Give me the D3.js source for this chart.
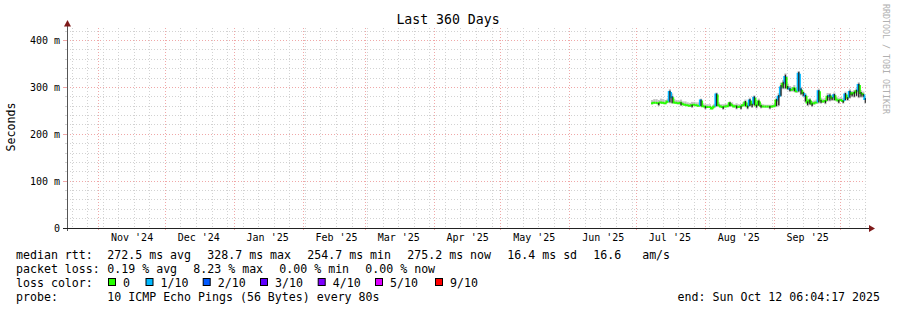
<!DOCTYPE html>
<html>
<head>
<meta charset="utf-8">
<script src="https://cdn.jsdelivr.net/npm/d3@7"></script>
<style>
  body { margin: 0; background: #fff; }
  svg text { font-family: "DejaVu Sans Mono", monospace; fill: #000; }
</style>
</head>
<body>
<svg id="chart" width="897" height="310"></svg>
<script>
// daily samples, first one at Jul 7 2025 noon, values in ms
const firstDay = new Date(2025, 6, 7, 12, 0, 0)
const medianRtt = [
  266,267,267,266,268,267,266,270,290,279,
  268,267,266,267,264,263,262,261,262,263,
  262,261,272,260,259,258,258,255,259,285,
  262,259,258,259,260,266,262,259,260,258,
  259,262,268,260,272,264,278,262,270,261,
  259,259,259,259,259,260,272,280,300,308,
  322,300,297,295,298,292,329,295,288,282,
  268,272,265,266,268,292,272,270,271,280,
  282,278,283,274,272,273,271,285,278,290,
  286,288,292,305,288,285,275]
// light smoke above / below the median (ms)
const smokeUp = [
  7,8,8,7,8,8,7,6,6,8,
  7,6,6,7,6,7,6,6,7,6,
  6,7,4,6,5,6,6,5,6,4,
  6,5,6,6,5,4,6,5,6,6,
  5,6,6,6,6,6,5,6,6,5,
  5,4,4,4,4,5,6,8,10,8,
  8,8,6,6,7,6,6,6,5,5,
  6,5,6,6,6,5,6,6,6,8,
  6,6,6,6,6,6,6,6,6,6,
  6,6,6,6,6,6,5]
const smokeDown = [
  2,2,2,6,2,2,2,3,24,14,
  2,2,2,7,2,2,2,2,6,2,
  2,2,14,2,6,2,2,2,2,27,
  3,2,6,2,2,8,3,2,7,2,
  7,3,10,7,13,8,18,7,10,6,
  2,2,2,6,2,2,14,20,20,12,
  26,6,7,4,8,4,40,12,8,14,
  8,10,7,3,3,26,7,3,7,10,
  12,7,12,4,7,3,6,14,7,14,
  7,10,12,28,10,7,10]
// dark (dense) smoke above / below the median (ms)
const coreUp = [
  0,0,0,1,0,0,0,0,3,2,
  0,0,0,1,0,0,0,0,1,0,
  0,0,2,0,1,0,0,0,0,2,
  0,0,1,0,0,2,0,0,1,0,
  1,0,3,1,3,1,3,1,2,1,
  0,0,0,1,0,0,3,4,5,4,
  5,3,1,0,1,0,4,3,2,2,
  2,2,1,0,0,2,1,0,1,3,
  3,1,3,0,1,0,1,3,1,3,
  1,3,3,3,2,1,2]
const coreDown = [
  0,0,0,4,0,0,0,0,22,12,
  0,0,0,5,0,0,0,0,4,0,
  0,0,12,0,4,0,0,0,0,25,
  0,0,4,0,0,6,0,0,5,0,
  5,0,8,5,12,6,16,5,9,4,
  0,0,0,4,0,0,12,18,18,10,
  24,4,5,0,6,0,38,10,6,12,
  6,8,5,0,0,24,5,0,5,8,
  10,5,10,0,5,0,4,12,5,12,
  5,8,10,26,8,5,8]
// loss level index into lossColors
const lossLevel = [
  0,0,0,0,0,0,0,0,1,1,
  0,0,0,0,0,0,0,0,0,0,
  0,0,1,0,0,0,0,0,0,1,
  0,0,0,0,0,0,0,0,0,0,
  0,0,0,0,1,0,1,0,0,0,
  0,0,0,0,0,0,0,1,1,0,
  1,0,1,0,0,0,1,1,0,1,
  0,0,0,0,0,1,0,0,0,0,
  1,0,1,0,0,0,0,1,0,1,
  0,0,0,1,0,0,1]

const lossColors = ["#26ff00", "#00b8ff", "#0059ff", "#5e00ff", "#7e00ff", "#dd00ff", "#ff0000"]
const lossLabels = ["0", "1/10", "2/10", "3/10", "4/10", "5/10", "9/10"]

const yTickValues = [0, 0.1, 0.2, 0.3, 0.4]
const yTickLabels = ["0", "100 m", "200 m", "300 m", "400 m"]

const rttLine = ["median rtt:", "272.5 ms avg", "328.7 ms max", "254.7 ms min", "275.2 ms now", "16.4 ms sd", "16.6   am/s"]
const lossLine = ["packet loss:", "0.19 % avg", "8.23 % max", "0.00 % min", "0.00 % now"]
const probeLine = ["probe:", "10 ICMP Echo Pings (56 Bytes) every 80s"]
const endText = "end: Sun Oct 12 06:04:17 2025"

const tStart = new Date(2024, 9, 17, 6, 4, 17)
const tEnd = new Date(2025, 9, 12, 6, 4, 17)

const plot = { left: 66, right: 866, top: 28, bottom: 228 }
const svg = d3.select("#chart")
const snap = v => Math.floor(v) + 0.5

const x = d3.scaleTime().domain([tStart, tEnd]).range([plot.left, plot.right])
const y = d3.scaleLinear().domain([0, 0.42667]).range([plot.bottom, plot.top])

// grid
const grid = svg.append("g")
const minorColor = "#d2d2d2", majorColor = "#f0a8a8"

d3.range(1, 22).map(k => k * 0.02).forEach(v => {
    const major = Math.abs(v * 10 - Math.round(v * 10)) < 1e-6
    const yy = snap(y(v))
    grid.append("line")
        .attr("x1", 67).attr("x2", plot.right)
        .attr("y1", yy).attr("y2", yy)
        .attr("stroke", major ? majorColor : minorColor)
        .attr("stroke-dasharray", "1,2")
    grid.append("line")
        .attr("x1", major ? 63 : 65).attr("x2", 67)
        .attr("y1", yy).attr("y2", yy)
        .attr("stroke", major ? majorColor : minorColor)
})

const months = d3.timeMonth.range(tStart, tEnd)
const weeks = d3.timeSunday.range(tStart, tEnd)
weeks.forEach(w => {
    const xx = snap(x(w))
    grid.append("line")
        .attr("x1", xx).attr("x2", xx)
        .attr("y1", plot.top).attr("y2", plot.bottom)
        .attr("stroke", minorColor)
        .attr("stroke-dasharray", "1,2")
})
months.forEach(m => {
    const xx = snap(x(m))
    grid.append("line")
        .attr("x1", xx).attr("x2", xx)
        .attr("y1", plot.top).attr("y2", plot.bottom + 2)
        .attr("stroke", majorColor)
        .attr("stroke-dasharray", "1,2")
})

// data
const days = medianRtt.map((m, i) => ({
    t0: d3.timeDay.offset(firstDay, i),
    t1: i < medianRtt.length - 1 ? d3.timeDay.offset(firstDay, i + 1) : tEnd,
    med: m / 1000,
    prev: (i > 0 ? medianRtt[i - 1] : m) / 1000,
    hi: (m + smokeUp[i]) / 1000,
    lo: (m - smokeDown[i]) / 1000,
    chi: (m + coreUp[i]) / 1000,
    clo: (m - coreDown[i]) / 1000,
    core: coreUp[i] + coreDown[i] > 0,
    loss: lossLevel[i]
}))

const data = svg.append("g")
data.selectAll("rect.smoke")
    .data(days)
    .enter().append("rect")
    .attr("class", "smoke")
    .attr("x", d => x(d.t0))
    .attr("width", d => x(d.t1) - x(d.t0))
    .attr("y", d => y(d.hi))
    .attr("height", d => y(d.lo) - y(d.hi))
    .attr("fill", "#c2c2c2")

const segLine = d3.line().x(p => x(p[0])).y(p => y(p[1]))
data.selectAll("path.med")
    .data(days)
    .enter().append("path")
    .attr("class", "med")
    .attr("d", d => segLine([[d.t0, d.prev], [d.t0, d.med], [d.t1, d.med]]))
    .attr("fill", "none")
    .attr("stroke", d => lossColors[d.loss])
    .attr("stroke-width", 2)

data.selectAll("rect.core")
    .data(days.filter(d => d.core))
    .enter().append("rect")
    .attr("class", "core")
    .attr("x", d => x(d.t0) + 0.5)
    .attr("width", d => Math.max(1, x(d.t1) - x(d.t0) - 1))
    .attr("y", d => y(d.chi))
    .attr("height", d => y(d.clo) - y(d.chi))
    .attr("fill", "#222")

// axes
const axisColor = "#222", arrowColor = "#7f1a1a"
svg.append("line")
    .attr("x1", 67.5).attr("x2", 67.5)
    .attr("y1", 231).attr("y2", 25)
    .attr("stroke", "#555")
svg.append("line")
    .attr("x1", 63).attr("x2", 870)
    .attr("y1", 228.5).attr("y2", 228.5)
    .attr("stroke", axisColor)
svg.append("path")
    .attr("d", "M64,26.5 L71,26.5 L67.5,20 Z")
    .attr("fill", arrowColor)
svg.append("path")
    .attr("d", "M869,225 L869,232 L875,228.5 Z")
    .attr("fill", arrowColor)

// y labels
svg.append("g").selectAll("text")
    .data(yTickValues)
    .enter().append("text")
    .attr("x", 60)
    .attr("y", d => snap(y(d)) + 3.6)
    .attr("text-anchor", "end")
    .attr("font-size", "10px")
    .text((d, i) => yTickLabels[i])

// x labels centered mid-month
const fmt = d3.timeFormat("%b '%y")
svg.append("g").selectAll("text")
    .data(d3.timeMonth.range(d3.timeMonth.floor(tStart), tEnd)
        .filter(m => d3.timeDay.offset(m, 15) > tStart && d3.timeDay.offset(m, 15) < tEnd))
    .enter().append("text")
    .attr("x", m => x(d3.timeDay.offset(m, 15)))
    .attr("y", 241)
    .attr("text-anchor", "middle")
    .attr("font-size", "10px")
    .text(fmt)

// titles
svg.append("text")
    .attr("x", 448).attr("y", 24)
    .attr("text-anchor", "middle")
    .attr("font-size", "13.2px")
    .text("Last 360 Days")
svg.append("text")
    .attr("transform", "translate(15,127) rotate(-90)")
    .attr("text-anchor", "middle")
    .attr("font-size", "11.6px")
    .text("Seconds")
svg.append("text")
    .attr("transform", "translate(883,4) rotate(90)")
    .attr("font-size", "8.3px")
    .style("fill", "#b0b0b0")
    .text("RRDTOOL / TOBI OETIKER")

// legend
const legend = svg.append("g").attr("font-size", "11.6px")
const rttX = [16, 107.3, 207.3, 307.3, 407.3, 507.3, 593.3]
rttLine.forEach((s, i) => legend.append("text").attr("x", rttX[i]).attr("y", 258.5).attr("xml:space", "preserve").text(s))
const lossX = [16, 107.3, 193.3, 279.3, 365.3]
lossLine.forEach((s, i) => legend.append("text").attr("x", lossX[i]).attr("y", 272.5).text(s))
legend.append("text").attr("x", 16).attr("y", 286.5).text("loss color:")
const boxX = [108, 145.5, 202.7, 260, 317.7, 375, 435]
lossColors.forEach((c, i) => {
    legend.append("rect")
        .attr("x", boxX[i] + 0.5).attr("y", 278.5)
        .attr("width", 7).attr("height", 7)
        .attr("fill", c).attr("stroke", "#000")
    legend.append("text")
        .attr("x", boxX[i] + 15).attr("y", 286.5)
        .text(lossLabels[i])
})
const probeX = [16, 107.3]
probeLine.forEach((s, i) => legend.append("text").attr("x", probeX[i]).attr("y", 300.5).text(s))
legend.append("text").attr("x", 880).attr("y", 300.5).attr("text-anchor", "end").text(endText)
</script>
</body>
</html>
